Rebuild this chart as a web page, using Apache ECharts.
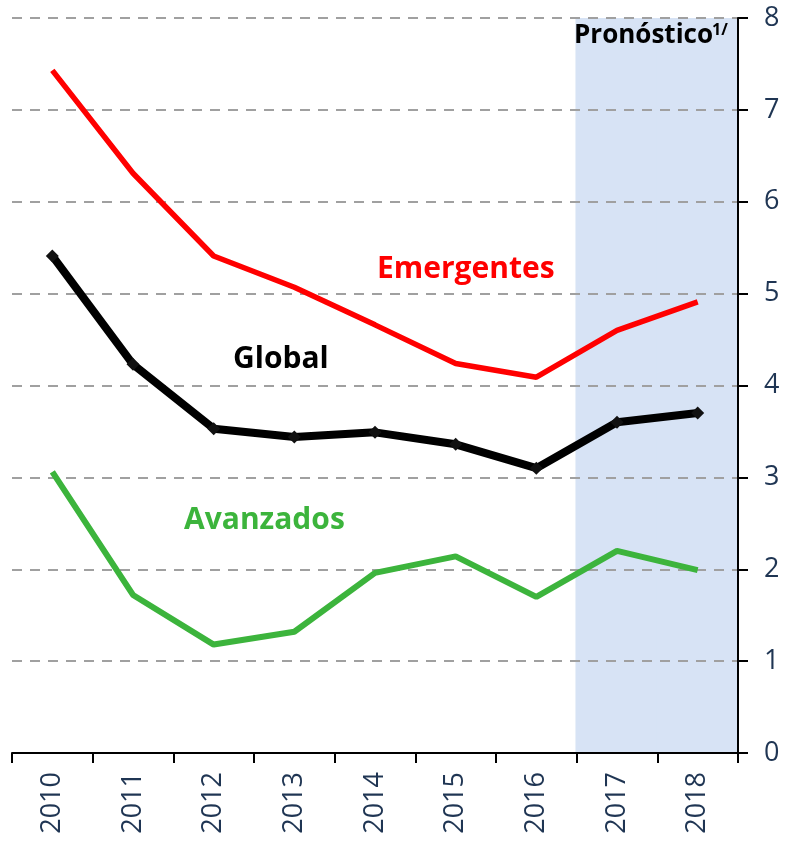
<!DOCTYPE html>
<html>
<head>
<meta charset="utf-8">
<script src="https://cdn.jsdelivr.net/npm/echarts@6/dist/echarts.min.js"></script>
<style>
html,body{margin:0;padding:0;background:#fff;}
#chart{width:786px;height:842px;}
</style>
</head>
<body>
<div id="chart"></div>
<script>
const categories = ['2010','2011','2012','2013','2014','2015','2016','2017','2018'];
const emergentes = [7.43, 6.31, 5.41, 5.07, 4.66, 4.24, 4.09, 4.60, 4.91];
const global = [5.41, 4.23, 3.53, 3.44, 3.49, 3.36, 3.10, 3.60, 3.70];
const avanzados = [3.06, 1.72, 1.18, 1.32, 1.96, 2.14, 1.70, 2.20, 1.99];
const forecast = [null, null, null, null, null, null, null, 8, 8];
const yTicks = [0, 1, 2, 3, 4, 5, 6, 7, 8];

const chart = echarts.init(document.getElementById('chart'));
const font = '"Open Sans", "Noto Sans", sans-serif';
chart.setOption({
  animation: false,
  grid: {left: 12, right: 48, top: 18, bottom: 89, containLabel: false},
  xAxis: {
    type: 'category',
    data: categories,
    boundaryGap: true,
    axisLine: {show: true, lineStyle: {color: '#000', width: 2}},
    axisTick: {show: true, length: 10, lineStyle: {color: '#000', width: 2}, alignWithLabel: false},
    axisLabel: {rotate: 90, margin: 19, color: '#1F3553', fontSize: 27, fontFamily: font},
    splitLine: {show: false}
  },
  yAxis: {
    type: 'value',
    position: 'right',
    min: yTicks[0],
    max: yTicks[yTicks.length - 1],
    interval: 1,
    axisLine: {show: true, lineStyle: {color: '#000', width: 2}},
    axisTick: {show: true, length: 10, lineStyle: {color: '#000', width: 2}},
    axisLabel: {margin: 26, color: '#1F3553', fontSize: 27, fontFamily: font},
    splitLine: {show: true, lineStyle: {color: '#A0A0A0', width: 2, type: [10, 8]}}
  },
  series: [
    {
      type: 'bar', data: forecast, barWidth: '103%', barGap: '-100%',
      itemStyle: {color: '#D7E3F5'}, z: -1, silent: true
    },
    {
      type: 'line', data: emergentes, symbol: 'none',
      lineStyle: {color: '#FF0000', width: 5.5}, z: 3
    },
    {
      type: 'line', data: global, symbol: 'diamond', symbolSize: 13, showSymbol: true,
      itemStyle: {color: '#111'},
      lineStyle: {color: '#000', width: 8}, z: 4
    },
    {
      type: 'line', data: avanzados, symbol: 'none',
      lineStyle: {color: '#3CB43C', width: 6}, z: 3
    }
  ],
  graphic: [
    {type: 'text', left: 377, top: 254, style: {text: 'Emergentes', fill: '#FF0000', font: 'bold 30px ' + font}},
    {type: 'text', left: 233, top: 344, style: {text: 'Global', fill: '#000', font: 'bold 30px ' + font}},
    {type: 'text', left: 184, top: 505, style: {text: 'Avanzados', fill: '#3CB43C', font: 'bold 30px ' + font}},
    {type: 'text', left: 574, top: 23, style: {text: 'Pronóstico', fill: '#000', font: 'bold 26px ' + font}},
    {type: 'text', left: 712, top: 22, style: {text: '1/', fill: '#000', font: 'bold 16px ' + font}}
  ]
});
</script>
</body>
</html>
